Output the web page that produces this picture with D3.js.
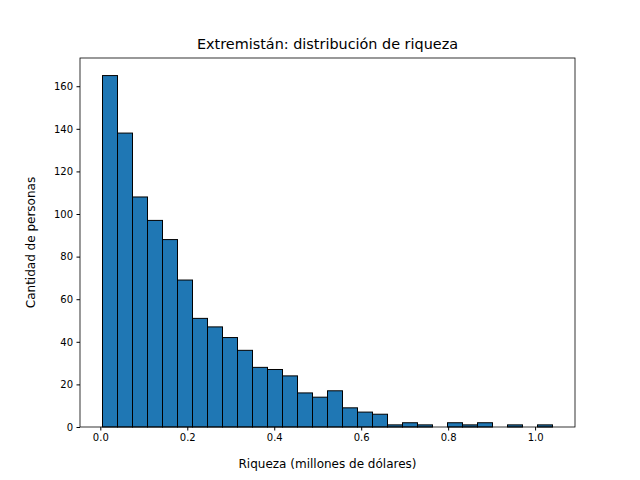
<!DOCTYPE html>
<html>
<head>
<meta charset="utf-8">
<script src="https://d3js.org/d3.v7.min.js"></script>
<style>
  body { margin: 0; background: #fff; }
  text { font-family: "DejaVu Sans", sans-serif; }
</style>
</head>
<body>
<div id="plot"></div>
<script>
// histogram counts, 30 equal bins
const counts = [165, 138, 108, 97, 88, 69, 51, 47, 42, 36, 28, 27, 24, 16, 14,
                17, 9, 7, 6, 1, 2, 1, 0, 2, 1, 2, 0, 1, 0, 1];
const lo = 0.005, hi = 1.04;
const w = (hi - lo) / counts.length;
const bins = counts.map((c, i) => ({ x0: lo + i * w, x1: lo + (i + 1) * w, n: c }));

const width = 640, height = 480;
const m = { left: 80, right: 65, top: 58, bottom: 53 };

const svg = d3.select("#plot").append("svg")
  .attr("width", width).attr("height", height);

const pad = (hi - lo) * 0.05;
const x = d3.scaleLinear().domain([lo - pad, hi + pad]).range([m.left, width - m.right]);
const y = d3.scaleLinear().domain([0, 165 * 1.05]).range([height - m.bottom, m.top]);

svg.selectAll("rect.bar").data(bins).enter().append("rect")
  .attr("class", "bar")
  .attr("x", d => x(d.x0))
  .attr("width", d => x(d.x1) - x(d.x0))
  .attr("y", d => y(d.n))
  .attr("height", d => y(0) - y(d.n))
  .attr("fill", "#1f77b4")
  .attr("stroke", "#000")
  .attr("stroke-width", 1);

const xAxis = svg.append("g")
  .attr("transform", `translate(0,${height - m.bottom})`)
  .call(d3.axisBottom(x).tickValues([0, 0.2, 0.4, 0.6, 0.8, 1.0])
    .tickFormat(d3.format(".1f")).tickSizeOuter(0).tickSize(3.5).tickPadding(3.5));
const yAxis = svg.append("g")
  .attr("transform", `translate(${m.left},0)`)
  .call(d3.axisLeft(y).tickValues([0, 20, 40, 60, 80, 100, 120, 140, 160])
    .tickSizeOuter(0).tickSize(3.5).tickPadding(3.5));
[xAxis, yAxis].forEach(g => {
  g.selectAll("text").attr("font-size", 10).attr("fill", "#000");
  g.select(".domain").remove();
});

// frame
svg.append("rect")
  .attr("x", m.left).attr("y", m.top)
  .attr("width", width - m.left - m.right)
  .attr("height", height - m.top - m.bottom)
  .attr("fill", "none").attr("stroke", "#000").attr("stroke-width", 0.8);

svg.append("text")
  .attr("x", (m.left + width - m.right) / 2).attr("y", 49)
  .attr("text-anchor", "middle").attr("font-size", 14.4)
  .text("Extremistán: distribución de riqueza");

svg.append("text")
  .attr("x", (m.left + width - m.right) / 2).attr("y", 468)
  .attr("text-anchor", "middle").attr("font-size", 12)
  .text("Riqueza (millones de dólares)");

svg.append("text")
  .attr("transform", `translate(35,${(m.top + height - m.bottom) / 2}) rotate(-90)`)
  .attr("text-anchor", "middle").attr("font-size", 12)
  .text("Cantidad de personas");
</script>
</body>
</html>
